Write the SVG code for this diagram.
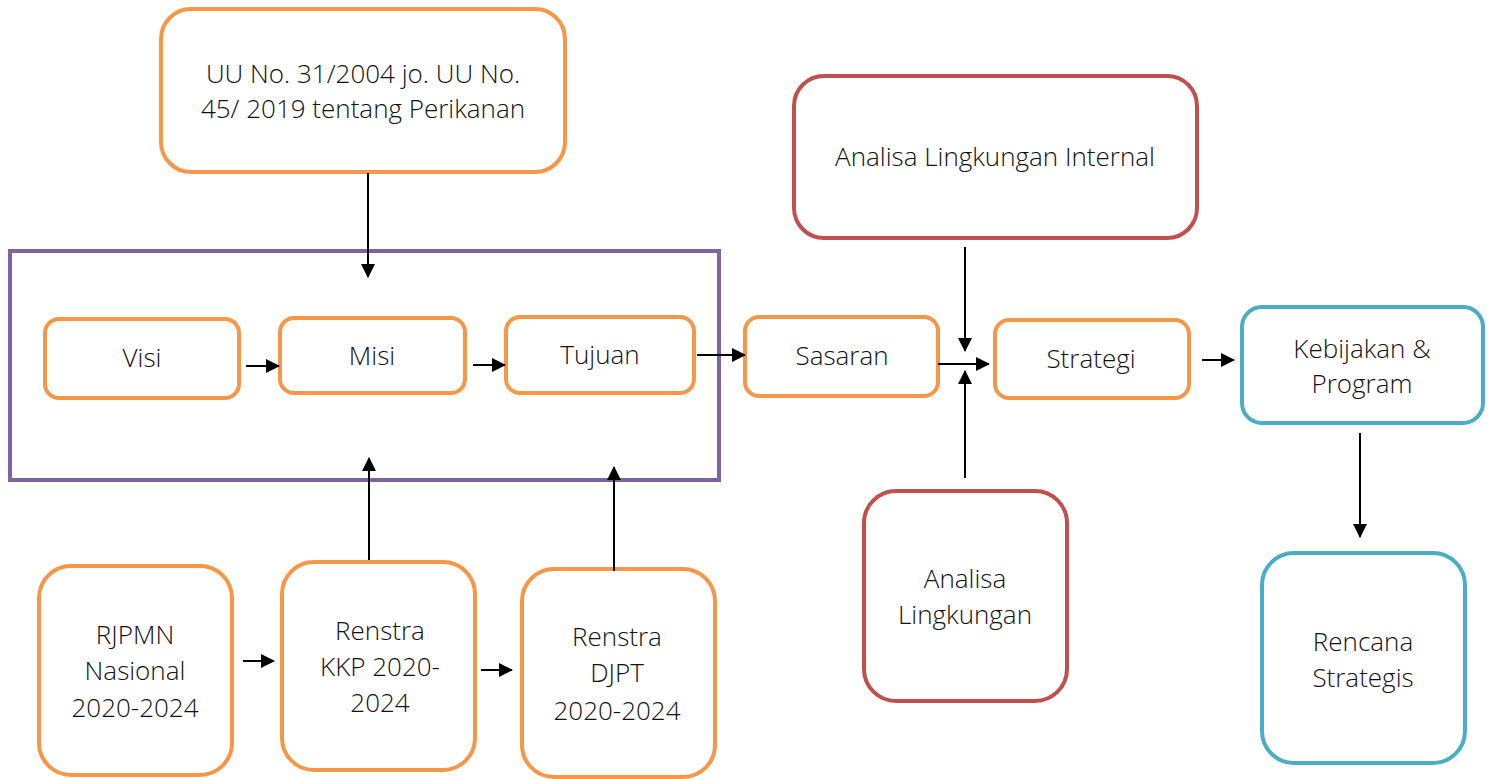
<svg xmlns="http://www.w3.org/2000/svg" width="1491" height="779" viewBox="0 0 1491 779">
<style>
.o{fill:#fff;stroke:#F79646;stroke-width:4}
.r{fill:#fff;stroke:#C0504D;stroke-width:4}
.b{fill:#fff;stroke:#4BACC6;stroke-width:4}
.p{fill:none;stroke:#8064A2;stroke-width:4}
text{font-family:"Open Sans","Noto Sans",sans-serif;font-weight:300;font-size:26px;fill:#111;text-anchor:middle}
.c line{stroke:#000;stroke-width:2;marker-end:url(#ah)}
</style>
<defs>
<marker id="ah" markerUnits="userSpaceOnUse" markerWidth="14" markerHeight="14" refX="13" refY="7" orient="auto">
<path d="M0,0 L14,7 L0,14 Z" fill="#000"/>
</marker>
</defs>
<rect id="frame" class="p" x="10" y="251" width="709" height="229"/>
<g id="uu"><rect class="o" x="161" y="9" width="404" height="163" rx="30"/>
<text x="363" y="83">UU No. 31/2004 jo. UU No.</text><text x="363" y="118">45/ 2019 tentang Perikanan</text></g>
<g id="visi"><rect class="o" x="45" y="319" width="194" height="79" rx="14"/><text x="142" y="367">Visi</text></g>
<g id="misi"><rect class="o" x="280" y="318" width="185" height="75" rx="14"/><text x="372" y="365">Misi</text></g>
<g id="tujuan"><rect class="o" x="506" y="317" width="188" height="76" rx="14"/><text x="600" y="364">Tujuan</text></g>
<g id="sasaran"><rect class="o" x="745" y="317" width="193" height="79" rx="14"/><text x="842" y="365">Sasaran</text></g>
<g id="strategi"><rect class="o" x="995" y="320" width="194" height="78" rx="14"/><text x="1091" y="368">Strategi</text></g>
<g id="kebijakan"><rect class="b" x="1242" y="307" width="241" height="116" rx="20"/><text x="1362" y="358">Kebijakan &amp;</text><text x="1362" y="393">Program</text></g>
<g id="rencana"><rect class="b" x="1262" y="553" width="203" height="210" rx="32"/><text x="1363" y="651">Rencana</text><text x="1363" y="687">Strategis</text></g>
<g id="internal"><rect class="r" x="794" y="76" width="403" height="162" rx="30"/><text x="995" y="166">Analisa Lingkungan Internal</text></g>
<g id="eksternal"><rect class="r" x="864" y="491" width="203" height="210" rx="32"/><text x="965" y="588">Analisa</text><text x="965" y="624">Lingkungan</text></g>
<g id="rjpmn"><rect class="o" x="39" y="566" width="193" height="209" rx="32"/><text x="135" y="644">RJPMN</text><text x="135" y="680">Nasional</text><text x="135" y="717">2020-2024</text></g>
<g id="kkp"><rect class="o" x="282" y="562" width="193" height="208" rx="32"/><text x="380" y="640">Renstra</text><text x="380" y="676">KKP 2020-</text><text x="380" y="712">2024</text></g>
<g id="djpt"><rect class="o" x="522" y="569" width="193" height="208" rx="32"/><text x="617" y="646">Renstra</text><text x="617" y="682">DJPT</text><text x="617" y="720">2020-2024</text></g>
<g id="connectors" class="c">
<line x1="368" y1="173" x2="368" y2="277"/>
<line x1="246" y1="366" x2="279" y2="366"/>
<line x1="473" y1="365" x2="505" y2="365"/>
<line x1="697" y1="355" x2="745" y2="355"/>
<line x1="938" y1="364" x2="989" y2="364"/>
<line x1="1202" y1="360" x2="1234" y2="360"/>
<line x1="1360" y1="433" x2="1360" y2="537"/>
<line x1="965" y1="247" x2="965" y2="351"/>
<line x1="965" y1="478" x2="965" y2="371"/>
<line x1="243" y1="661" x2="274" y2="661"/>
<line x1="481" y1="670" x2="512" y2="670"/>
<line x1="369" y1="560" x2="369" y2="458"/>
<line x1="614" y1="571" x2="614" y2="467"/>
</g>
</svg>
